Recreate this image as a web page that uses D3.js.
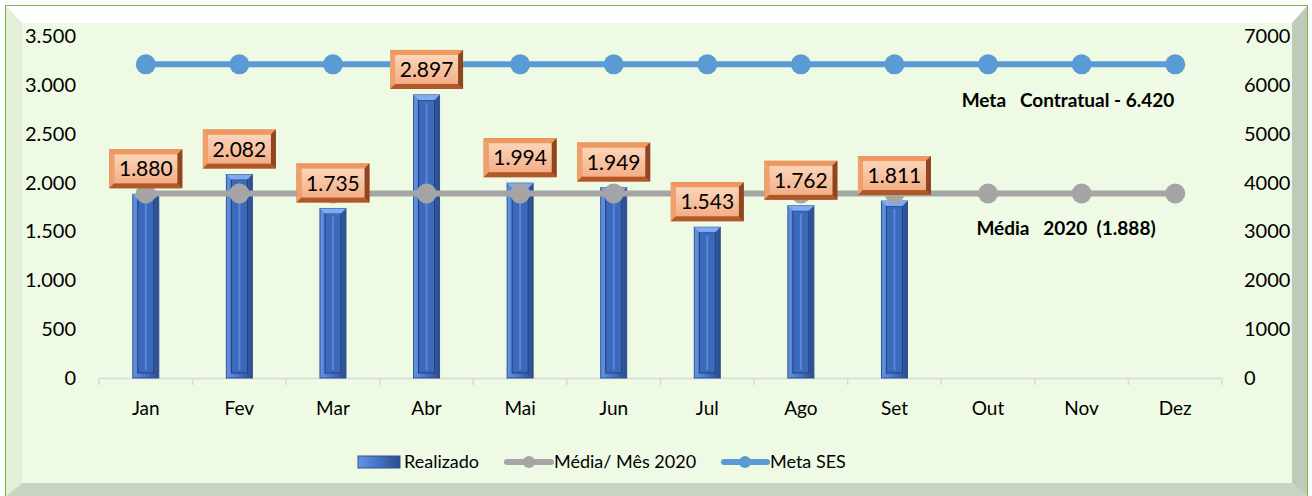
<!DOCTYPE html>
<html>
<head>
<meta charset="utf-8">
<script src="https://cdn.jsdelivr.net/npm/d3@7"></script>
<style>
  body { margin: 0; background: #fff; }
  svg { display: block; font-family: Lato, "Noto Sans", sans-serif; }
</style>
</head>
<body>
<div id="chart"></div>
<script>
const months = ['Jan', 'Fev', 'Mar', 'Abr', 'Mai', 'Jun', 'Jul', 'Ago', 'Set', 'Out', 'Nov', 'Dez'];
const realizado = [1880, 2082, 1735, 2897, 1994, 1949, 1543, 1762, 1811];
const mediaMes = [1888, 1888, 1888, 1888, 1888, 1888, 1888, 1888, 1888, 1888, 1888, 1888];
const metaSES = [6420, 6420, 6420, 6420, 6420, 6420, 6420, 6420, 6420, 6420, 6420, 6420];
const leftTicks = [0, 500, 1000, 1500, 2000, 2500, 3000, 3500];
const rightTicks = [0, 1000, 2000, 3000, 4000, 5000, 6000, 7000];

const width = 1312;
const height = 496;

const svg = d3.select('#chart').append('svg')
  .attr('width', width)
  .attr('height', height);

const defs = svg.append('defs');

const barGrad = defs.append('linearGradient').attr('id', 'barGrad');
barGrad.append('stop').attr('offset', '0%').attr('stop-color', '#6393e4');
barGrad.append('stop').attr('offset', '50%').attr('stop-color', '#4472c4');
barGrad.append('stop').attr('offset', '100%').attr('stop-color', '#2a4c8c');

const boxGrad = defs.append('linearGradient').attr('id', 'boxGrad')
  .attr('x1', 0).attr('y1', 0).attr('x2', 0).attr('y2', 1);
boxGrad.append('stop').attr('offset', '0%').attr('stop-color', '#fbd5ba');
boxGrad.append('stop').attr('offset', '100%').attr('stop-color', '#f4ae86');

// moldura com bisel
svg.append('rect').attr('x', 5.5).attr('y', 5.5).attr('width', 1302).attr('height', 500)
  .attr('fill', '#eefae4').attr('stroke', '#7ab648');
const ox0 = 6, oy0 = 6, ox1 = 1307, oy1 = 496;
const ix0 = 22, iy0 = 23, ix1 = 1292, iy1 = 483;
const bevel = [
  { pts: [[ox0, oy0], [ox1, oy0], [ix1, iy0], [ix0, iy0]], c: '#ffffff' },
  { pts: [[ox0, oy0], [ix0, iy0], [ix0, iy1], [ox0, oy1]], c: '#e3efd9' },
  { pts: [[ox1, oy0], [ox1, oy1], [ix1, iy1], [ix1, iy0]], c: '#bfcbb7' },
  { pts: [[ox0, oy1], [ix0, iy1], [ix1, iy1], [ox1, oy1]], c: '#c9d5c0' }
];
svg.append('g').selectAll('polygon').data(bevel).join('polygon')
  .attr('points', d => d.pts.map(p => p.join(',')).join(' '))
  .attr('fill', d => d.c);
svg.append('rect').attr('x', ix0).attr('y', iy0).attr('width', ix1 - ix0).attr('height', iy1 - iy0)
  .attr('fill', '#eefae4');

// escalas
const x = d3.scaleBand().domain(months).range([99, 1222]);
const yL = d3.scaleLinear().domain([0, 3500]).range([378, 36]);
const yR = d3.scaleLinear().domain([0, 7000]).range([378, 36]);
const fmt = d3.formatLocale({ decimal: ',', thousands: '.', grouping: [3], currency: ['', ''] }).format(',.0f');

// eixo esquerdo
svg.append('g').selectAll('text').data(leftTicks).join('text')
  .attr('x', 76).attr('y', d => yL(d)).attr('dy', '0.35em')
  .attr('text-anchor', 'end').attr('font-size', 20).attr('fill', '#000')
  .text(d => fmt(d));

// eixo direito
svg.append('g').selectAll('text').data(rightTicks).join('text')
  .attr('x', 1244).attr('y', d => yR(d)).attr('dy', '0.35em')
  .attr('text-anchor', 'start').attr('font-size', 20).attr('fill', '#000')
  .text(d => d);

// eixo x
const xAxis = svg.append('g').attr('transform', 'translate(0,378)')
  .call(d3.axisBottom(x).tickSize(0).tickPadding(24));
xAxis.select('.domain').attr('stroke', '#d9d9d9').attr('stroke-width', 1.5);
xAxis.selectAll('text').attr('font-size', 19).attr('fill', '#000').attr('font-family', 'Lato, "Noto Sans", sans-serif');
xAxis.append('g').selectAll('line').data(months.concat(['end'])).join('line')
  .attr('x1', (d, i) => x.range()[0] + i * x.step())
  .attr('x2', (d, i) => x.range()[0] + i * x.step())
  .attr('y1', 0).attr('y2', 7).attr('stroke', '#d9d9d9').attr('stroke-width', 1.5);

// barras
const barW = 26;
const bars = svg.append('g').selectAll('g').data(realizado).join('g')
  .attr('transform', (d, i) => `translate(${x(months[i]) + x.bandwidth() / 2 - barW / 2},${yL(d)})`);
bars.append('rect').attr('width', barW).attr('height', d => yL(0) - yL(d))
  .attr('fill', 'url(#barGrad)').attr('stroke', '#2f528f').attr('stroke-width', 1);
bars.append('rect').attr('x', 5).attr('y', 5).attr('width', barW - 10)
  .attr('height', d => Math.max(0, yL(0) - yL(d) - 10))
  .attr('fill', '#3b69bb').attr('stroke', '#22407a').attr('stroke-width', 1);
bars.append('line').attr('x1', barW / 2).attr('x2', barW / 2).attr('y1', 8)
  .attr('y2', d => yL(0) - yL(d) - 8).attr('stroke', '#5a86d6').attr('stroke-width', 2);
bars.append('polygon')
  .attr('points', `0,0 ${barW},0 ${barW - 5},5 5,5`).attr('fill', '#80abf0');

// linhas
function drawLine(values, scale, color) {
  const g = svg.append('g');
  g.append('path').datum(values)
    .attr('fill', 'none').attr('stroke', color).attr('stroke-width', 6)
    .attr('d', d3.line().x((d, i) => x(months[i]) + x.bandwidth() / 2).y(d => scale(d)));
  g.selectAll('circle').data(values).join('circle')
    .attr('cx', (d, i) => x(months[i]) + x.bandwidth() / 2).attr('cy', d => scale(d))
    .attr('r', 10).attr('fill', color);
}
drawLine(mediaMes, yL, '#a5a5a5');
drawLine(metaSES, yR, '#5b9bd5');

// rótulos
const boxW = 73, boxH = 39;
const labels = svg.append('g').selectAll('g').data(realizado).join('g')
  .attr('transform', (d, i) => `translate(${x(months[i]) + x.bandwidth() / 2 - boxW / 2},${yL(d) - 6 - boxH})`);
labels.append('rect').attr('width', boxW).attr('height', boxH).attr('fill', '#d7773c');
labels.append('polygon').attr('points', `0,0 ${boxW},0 ${boxW - 5},5 5,5`).attr('fill', '#ee9860');
labels.append('polygon').attr('points', `0,0 5,5 5,${boxH - 5} 0,${boxH}`).attr('fill', '#f0a06c');
labels.append('polygon').attr('points', `0,${boxH} 5,${boxH - 5} ${boxW - 5},${boxH - 5} ${boxW},${boxH}`).attr('fill', '#b0582a');
labels.append('polygon').attr('points', `${boxW},0 ${boxW},${boxH} ${boxW - 5},${boxH - 5} ${boxW - 5},5`).attr('fill', '#8e4520');
labels.append('rect').attr('x', 5).attr('y', 5).attr('width', boxW - 10).attr('height', boxH - 10)
  .attr('fill', 'url(#boxGrad)');
labels.append('text').attr('x', boxW / 2).attr('y', boxH / 2).attr('dy', '0.36em')
  .attr('text-anchor', 'middle').attr('font-size', 21).attr('fill', '#000')
  .text(d => fmt(d));

// anotações
svg.append('text').attr('x', 1068).attr('y', 100).attr('dy', '0.35em')
  .attr('text-anchor', 'middle').attr('font-size', 19).attr('font-weight', 'bold')
  .attr('xml:space', 'preserve').text('Meta   Contratual - 6.420');
svg.append('text').attr('x', 1066).attr('y', 228).attr('dy', '0.35em')
  .attr('text-anchor', 'middle').attr('font-size', 19).attr('font-weight', 'bold')
  .attr('xml:space', 'preserve').text('Média   2020  (1.888)');

// legenda
const legend = svg.append('g').attr('transform', 'translate(0,462)');
legend.append('rect').attr('x', 358).attr('y', -6).attr('width', 42).attr('height', 12)
  .attr('fill', 'url(#barGrad)').attr('stroke', '#2f528f');
legend.append('text').attr('x', 404).attr('dy', '0.35em').attr('font-size', 18).text('Realizado');
legend.append('line').attr('x1', 507).attr('x2', 551).attr('stroke', '#a5a5a5').attr('stroke-width', 6).attr('stroke-linecap', 'round');
legend.append('circle').attr('cx', 529).attr('r', 6).attr('fill', '#a5a5a5');
legend.append('text').attr('x', 554).attr('dy', '0.35em').attr('font-size', 18).text('Média/ Mês 2020');
legend.append('line').attr('x1', 724).attr('x2', 767).attr('stroke', '#5b9bd5').attr('stroke-width', 6).attr('stroke-linecap', 'round');
legend.append('circle').attr('cx', 745).attr('r', 6).attr('fill', '#5b9bd5');
legend.append('text').attr('x', 770).attr('dy', '0.35em').attr('font-size', 18).text('Meta SES');
</script>
</body>
</html>
